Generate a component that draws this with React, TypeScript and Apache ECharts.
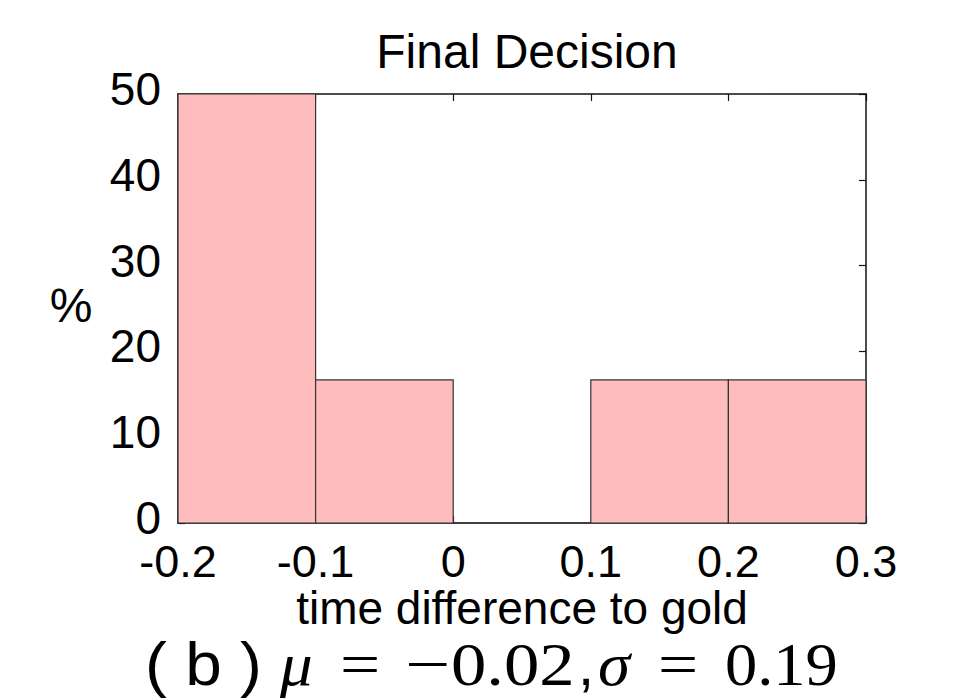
import React, { useEffect, useRef } from "react";
import * as echarts from "echarts";

const binStarts = [-0.2, -0.1, 0.0, 0.1, 0.2];
const binEnds = [-0.1, 0.0, 0.1, 0.2, 0.3];
const percents = [50, 16.67, 0, 16.67, 16.67];

const title = "Final Decision";
const xName = "time difference to gold";
const yName = "%";

const SANS = "'Liberation Sans', Arial, Helvetica, sans-serif";
const SERIF = "'Liberation Serif', 'Times New Roman', serif";

export default function App() {
  const ref = useRef<HTMLDivElement>(null);
  useEffect(() => {
    if (!ref.current) return;
    const chart = echarts.init(ref.current, null, { renderer: "svg" });
    const data = binStarts.map((s, i) => [s, binEnds[i], percents[i]]);
    const fmt = (v: number) => String(Math.round(v * 10) / 10);
    const axisLine = { show: true, onZero: false, lineStyle: { color: "#111", width: 1.5 } };
    const tick = { show: true, inside: true, length: 7, lineStyle: { color: "#111", width: 1.2 } };
    const labelFont = { color: "#000", fontFamily: SANS, fontSize: 46 };
    const cap = (text: string, x: number, font: string, scaleX = 1) => ({
      type: "text",
      x,
      y: 664,
      scaleX,
      style: { text, font, fill: "#000", verticalAlign: "middle" },
    });
    const option: any = {
      animation: false,
      backgroundColor: "#fff",
      title: {
        text: title,
        left: 522,
        textAlign: "center",
        top: 22,
        textStyle: { fontFamily: SANS, fontSize: 48, fontWeight: "normal", color: "#000" },
      },
      grid: { left: 178, top: 94, right: 87, bottom: 175, containLabel: false },
      xAxis: [
        {
          type: "value",
          min: -0.2,
          max: 0.3,
          interval: 0.1,
          position: "bottom",
          axisLine,
          axisTick: tick,
          splitLine: { show: false },
          axisLabel: { ...labelFont, fontSize: 45, margin: 16, formatter: fmt },
        },
        {
          type: "value",
          min: -0.2,
          max: 0.3,
          interval: 0.1,
          position: "top",
          axisLine,
          axisTick: tick,
          splitLine: { show: false },
          axisLabel: { show: false },
        },
      ],
      yAxis: [
        {
          type: "value",
          min: 0,
          max: 50,
          interval: 10,
          position: "left",
          axisLine,
          axisTick: tick,
          splitLine: { show: false },
          axisLabel: { ...labelFont, margin: 17, verticalAlign: "bottom", lineHeight: 10 },
        },
        {
          type: "value",
          min: 0,
          max: 50,
          interval: 10,
          position: "right",
          axisLine,
          axisTick: tick,
          splitLine: { show: false },
          axisLabel: { show: false },
        },
      ],
      series: [
        {
          type: "custom",
          xAxisIndex: 0,
          yAxisIndex: 0,
          data,
          encode: { x: [0, 1], y: 2 },
          z: 3,
          renderItem: (params: any, api: any) => {
            const s = api.value(0);
            const e = api.value(1);
            const v = api.value(2);
            const p0 = api.coord([s, v]);
            const p1 = api.coord([e, 0]);
            return {
              type: "rect",
              shape: { x: p0[0], y: p0[1], width: p1[0] - p0[0], height: p1[1] - p0[1] },
              style: { fill: "#ffbcbc", stroke: "#333", lineWidth: 1.2 },
            };
          },
        },
      ],
      graphic: [
        {
          type: "text",
          x: 522,
          y: 608,
          style: {
            text: xName,
            font: `46px ${SANS}`,
            fill: "#000",
            align: "center",
            verticalAlign: "middle",
          },
        },
        {
          type: "text",
          x: 71,
          y: 305,
          style: { text: yName, font: `48px ${SANS}`, fill: "#000", align: "center", verticalAlign: "middle" },
        },
        cap("( b )", 145, `62px ${SANS}`, 1.06),
        cap("μ", 280, `italic 62px ${SERIF}`, 1.05),
        cap("=", 340, `62px ${SERIF}`, 1.15),
        cap("−", 405, `62px ${SERIF}`, 1.3),
        cap("0.02", 451, `62px ${SERIF}`, 1.14),
        cap(",", 578, `58px ${SANS}`),
        cap("σ", 598, `italic 62px ${SERIF}`, 1.05),
        cap("=", 658, `62px ${SERIF}`, 1.15),
        cap("0.19", 725, `62px ${SERIF}`, 1.04),
      ],
    };
    chart.setOption(option);
    return () => chart.dispose();
  }, []);
  return (
    <div
      ref={ref}
      style={{ position: "absolute", left: 0, top: 0, width: 953, height: 698, background: "#fff" }}
    />
  );
}
